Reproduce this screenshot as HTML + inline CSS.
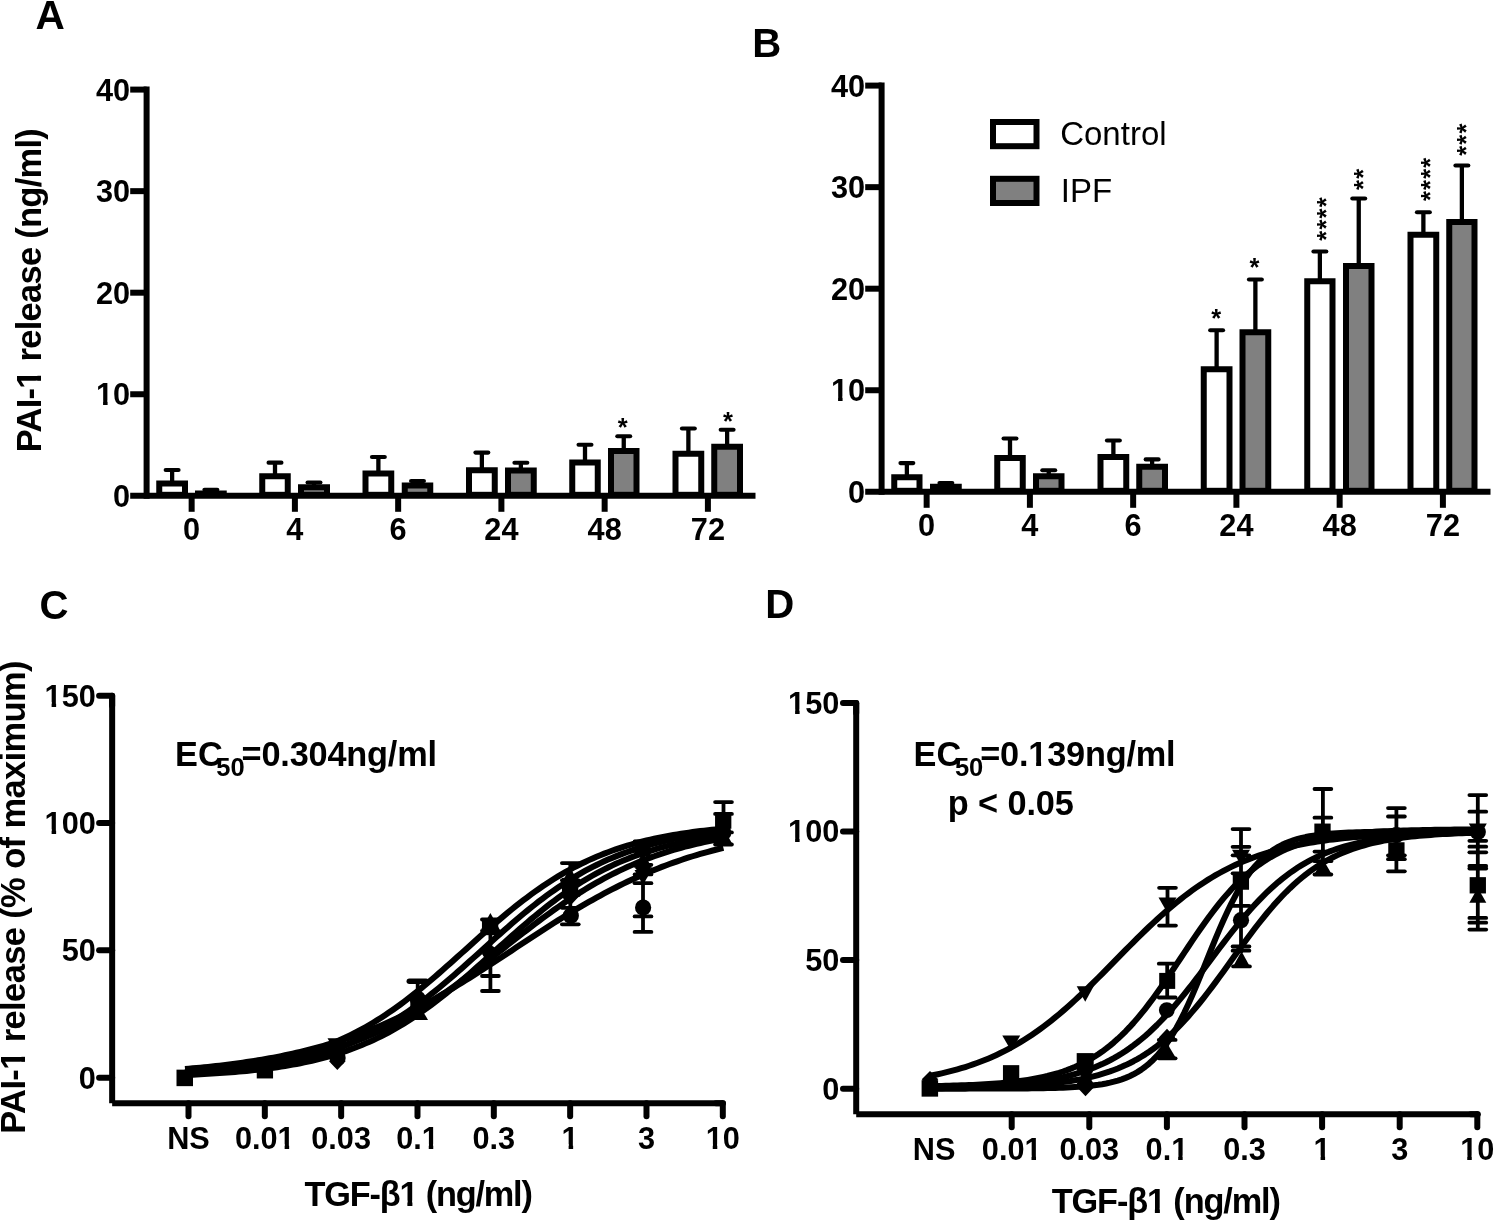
<!DOCTYPE html>
<html><head><meta charset="utf-8"><title>Figure</title>
<style>html,body{margin:0;padding:0;background:#fff}svg{display:block;will-change:transform}text{font-family:"Liberation Sans",sans-serif;fill:#000}</style>
</head><body>
<svg width="1494" height="1221" viewBox="0 0 1494 1221">
<rect x="0" y="0" width="1494" height="1221" fill="#fff"/>
<line x1="172.12" y1="481.50" x2="172.12" y2="470.00" stroke="#000" stroke-width="4.3" stroke-linecap="butt"/>
<line x1="165.72" y1="470.00" x2="178.53" y2="470.00" stroke="#000" stroke-width="4.2" stroke-linecap="round"/>
<rect x="159.25" y="483.50" width="25.75" height="11.30" fill="#fff" stroke="#000" stroke-width="6"/>
<line x1="210.88" y1="491.50" x2="210.88" y2="489.80" stroke="#000" stroke-width="4.3" stroke-linecap="butt"/>
<line x1="204.47" y1="489.80" x2="217.28" y2="489.80" stroke="#000" stroke-width="4.2" stroke-linecap="round"/>
<rect x="198.00" y="493.50" width="25.75" height="1.30" fill="#808080" stroke="#000" stroke-width="6"/>
<line x1="275.00" y1="474.25" x2="275.00" y2="462.70" stroke="#000" stroke-width="4.3" stroke-linecap="butt"/>
<line x1="268.60" y1="462.70" x2="281.40" y2="462.70" stroke="#000" stroke-width="4.2" stroke-linecap="round"/>
<rect x="262.25" y="476.25" width="25.50" height="18.55" fill="#fff" stroke="#000" stroke-width="6"/>
<line x1="314.00" y1="485.25" x2="314.00" y2="482.50" stroke="#000" stroke-width="4.3" stroke-linecap="butt"/>
<line x1="307.60" y1="482.50" x2="320.40" y2="482.50" stroke="#000" stroke-width="4.2" stroke-linecap="round"/>
<rect x="301.00" y="487.25" width="26.00" height="7.55" fill="#808080" stroke="#000" stroke-width="6"/>
<line x1="378.38" y1="471.50" x2="378.38" y2="457.00" stroke="#000" stroke-width="4.3" stroke-linecap="butt"/>
<line x1="371.98" y1="457.00" x2="384.77" y2="457.00" stroke="#000" stroke-width="4.2" stroke-linecap="round"/>
<rect x="365.50" y="473.50" width="25.75" height="21.30" fill="#fff" stroke="#000" stroke-width="6"/>
<line x1="417.50" y1="483.50" x2="417.50" y2="481.00" stroke="#000" stroke-width="4.3" stroke-linecap="butt"/>
<line x1="411.10" y1="481.00" x2="423.90" y2="481.00" stroke="#000" stroke-width="4.2" stroke-linecap="round"/>
<rect x="404.75" y="485.50" width="25.50" height="9.30" fill="#808080" stroke="#000" stroke-width="6"/>
<line x1="481.88" y1="468.25" x2="481.88" y2="452.60" stroke="#000" stroke-width="4.3" stroke-linecap="butt"/>
<line x1="475.48" y1="452.60" x2="488.27" y2="452.60" stroke="#000" stroke-width="4.2" stroke-linecap="round"/>
<rect x="469.00" y="470.25" width="25.75" height="24.55" fill="#fff" stroke="#000" stroke-width="6"/>
<line x1="520.88" y1="468.50" x2="520.88" y2="462.75" stroke="#000" stroke-width="4.3" stroke-linecap="butt"/>
<line x1="514.48" y1="462.75" x2="527.27" y2="462.75" stroke="#000" stroke-width="4.2" stroke-linecap="round"/>
<rect x="508.00" y="470.50" width="25.75" height="24.30" fill="#808080" stroke="#000" stroke-width="6"/>
<line x1="585.00" y1="460.50" x2="585.00" y2="444.75" stroke="#000" stroke-width="4.3" stroke-linecap="butt"/>
<line x1="578.60" y1="444.75" x2="591.40" y2="444.75" stroke="#000" stroke-width="4.2" stroke-linecap="round"/>
<rect x="572.25" y="462.50" width="25.50" height="32.30" fill="#fff" stroke="#000" stroke-width="6"/>
<line x1="623.75" y1="449.00" x2="623.75" y2="436.25" stroke="#000" stroke-width="4.3" stroke-linecap="butt"/>
<line x1="617.35" y1="436.25" x2="630.15" y2="436.25" stroke="#000" stroke-width="4.2" stroke-linecap="round"/>
<rect x="611.00" y="451.00" width="25.50" height="43.80" fill="#808080" stroke="#000" stroke-width="6"/>
<line x1="688.38" y1="451.75" x2="688.38" y2="428.50" stroke="#000" stroke-width="4.3" stroke-linecap="butt"/>
<line x1="681.98" y1="428.50" x2="694.77" y2="428.50" stroke="#000" stroke-width="4.2" stroke-linecap="round"/>
<rect x="675.50" y="453.75" width="25.75" height="41.05" fill="#fff" stroke="#000" stroke-width="6"/>
<line x1="727.12" y1="444.75" x2="727.12" y2="429.75" stroke="#000" stroke-width="4.3" stroke-linecap="butt"/>
<line x1="720.73" y1="429.75" x2="733.52" y2="429.75" stroke="#000" stroke-width="4.2" stroke-linecap="round"/>
<rect x="714.25" y="446.75" width="25.75" height="48.05" fill="#808080" stroke="#000" stroke-width="6"/>
<line x1="146.60" y1="86.60" x2="146.60" y2="498.80" stroke="#000" stroke-width="6.0" stroke-linecap="butt"/>
<line x1="130.20" y1="495.80" x2="755.50" y2="495.80" stroke="#000" stroke-width="6.0" stroke-linecap="butt"/>
<line x1="130.20" y1="394.25" x2="146.60" y2="394.25" stroke="#000" stroke-width="6.0" stroke-linecap="butt"/>
<line x1="130.20" y1="292.70" x2="146.60" y2="292.70" stroke="#000" stroke-width="6.0" stroke-linecap="butt"/>
<line x1="130.20" y1="191.15" x2="146.60" y2="191.15" stroke="#000" stroke-width="6.0" stroke-linecap="butt"/>
<line x1="130.20" y1="89.60" x2="146.60" y2="89.60" stroke="#000" stroke-width="6.0" stroke-linecap="butt"/>
<text x="130.20" y="506.79" font-size="30.7" font-weight="bold" text-anchor="end" >0</text>
<text x="130.20" y="405.24" font-size="30.7" font-weight="bold" text-anchor="end" >10</text>
<text x="130.20" y="303.69" font-size="30.7" font-weight="bold" text-anchor="end" >20</text>
<text x="130.20" y="202.14" font-size="30.7" font-weight="bold" text-anchor="end" >30</text>
<text x="130.20" y="100.59" font-size="30.7" font-weight="bold" text-anchor="end" >40</text>
<line x1="191.65" y1="495.80" x2="191.65" y2="511.80" stroke="#000" stroke-width="6.0" stroke-linecap="butt"/>
<text x="191.65" y="540.40" font-size="30.7" font-weight="bold" text-anchor="middle" >0</text>
<line x1="294.90" y1="495.80" x2="294.90" y2="511.80" stroke="#000" stroke-width="6.0" stroke-linecap="butt"/>
<text x="294.90" y="540.40" font-size="30.7" font-weight="bold" text-anchor="middle" >4</text>
<line x1="398.15" y1="495.80" x2="398.15" y2="511.80" stroke="#000" stroke-width="6.0" stroke-linecap="butt"/>
<text x="398.15" y="540.40" font-size="30.7" font-weight="bold" text-anchor="middle" >6</text>
<line x1="501.40" y1="495.80" x2="501.40" y2="511.80" stroke="#000" stroke-width="6.0" stroke-linecap="butt"/>
<text x="501.40" y="540.40" font-size="30.7" font-weight="bold" text-anchor="middle" >24</text>
<line x1="604.65" y1="495.80" x2="604.65" y2="511.80" stroke="#000" stroke-width="6.0" stroke-linecap="butt"/>
<text x="604.65" y="540.40" font-size="30.7" font-weight="bold" text-anchor="middle" >48</text>
<line x1="707.90" y1="495.80" x2="707.90" y2="511.80" stroke="#000" stroke-width="6.0" stroke-linecap="butt"/>
<text x="707.90" y="540.40" font-size="30.7" font-weight="bold" text-anchor="middle" >72</text>
<text x="622.70" y="436.00" font-size="25.5" font-weight="bold" text-anchor="middle" >*</text>
<text x="727.90" y="429.60" font-size="25.5" font-weight="bold" text-anchor="middle" >*</text>
<line x1="906.88" y1="475.25" x2="906.88" y2="463.10" stroke="#000" stroke-width="4.3" stroke-linecap="butt"/>
<line x1="900.48" y1="463.10" x2="913.27" y2="463.10" stroke="#000" stroke-width="4.2" stroke-linecap="round"/>
<rect x="894.25" y="477.25" width="25.25" height="13.55" fill="#fff" stroke="#000" stroke-width="6"/>
<line x1="945.88" y1="484.75" x2="945.88" y2="483.00" stroke="#000" stroke-width="4.3" stroke-linecap="butt"/>
<line x1="939.48" y1="483.00" x2="952.27" y2="483.00" stroke="#000" stroke-width="4.2" stroke-linecap="round"/>
<rect x="933.00" y="486.75" width="25.75" height="4.05" fill="#808080" stroke="#000" stroke-width="6"/>
<line x1="1010.00" y1="456.00" x2="1010.00" y2="438.50" stroke="#000" stroke-width="4.3" stroke-linecap="butt"/>
<line x1="1003.60" y1="438.50" x2="1016.40" y2="438.50" stroke="#000" stroke-width="4.2" stroke-linecap="round"/>
<rect x="997.25" y="458.00" width="25.50" height="32.80" fill="#fff" stroke="#000" stroke-width="6"/>
<line x1="1048.75" y1="474.25" x2="1048.75" y2="470.25" stroke="#000" stroke-width="4.3" stroke-linecap="butt"/>
<line x1="1042.35" y1="470.25" x2="1055.15" y2="470.25" stroke="#000" stroke-width="4.2" stroke-linecap="round"/>
<rect x="1036.00" y="476.25" width="25.50" height="14.55" fill="#808080" stroke="#000" stroke-width="6"/>
<line x1="1113.38" y1="455.00" x2="1113.38" y2="440.50" stroke="#000" stroke-width="4.3" stroke-linecap="butt"/>
<line x1="1106.97" y1="440.50" x2="1119.78" y2="440.50" stroke="#000" stroke-width="4.2" stroke-linecap="round"/>
<rect x="1100.50" y="457.00" width="25.75" height="33.80" fill="#fff" stroke="#000" stroke-width="6"/>
<line x1="1152.12" y1="464.75" x2="1152.12" y2="459.40" stroke="#000" stroke-width="4.3" stroke-linecap="butt"/>
<line x1="1145.72" y1="459.40" x2="1158.53" y2="459.40" stroke="#000" stroke-width="4.2" stroke-linecap="round"/>
<rect x="1139.25" y="466.75" width="25.75" height="24.05" fill="#808080" stroke="#000" stroke-width="6"/>
<line x1="1216.62" y1="367.25" x2="1216.62" y2="330.25" stroke="#000" stroke-width="4.3" stroke-linecap="butt"/>
<line x1="1210.22" y1="330.25" x2="1223.03" y2="330.25" stroke="#000" stroke-width="4.2" stroke-linecap="round"/>
<rect x="1203.75" y="369.25" width="25.75" height="121.55" fill="#fff" stroke="#000" stroke-width="6"/>
<line x1="1255.38" y1="330.25" x2="1255.38" y2="279.50" stroke="#000" stroke-width="4.3" stroke-linecap="butt"/>
<line x1="1248.97" y1="279.50" x2="1261.78" y2="279.50" stroke="#000" stroke-width="4.2" stroke-linecap="round"/>
<rect x="1242.50" y="332.25" width="25.75" height="158.55" fill="#808080" stroke="#000" stroke-width="6"/>
<line x1="1319.88" y1="279.25" x2="1319.88" y2="251.50" stroke="#000" stroke-width="4.3" stroke-linecap="butt"/>
<line x1="1313.47" y1="251.50" x2="1326.28" y2="251.50" stroke="#000" stroke-width="4.2" stroke-linecap="round"/>
<rect x="1307.25" y="281.25" width="25.25" height="209.55" fill="#fff" stroke="#000" stroke-width="6"/>
<line x1="1358.75" y1="264.00" x2="1358.75" y2="198.50" stroke="#000" stroke-width="4.3" stroke-linecap="butt"/>
<line x1="1352.35" y1="198.50" x2="1365.15" y2="198.50" stroke="#000" stroke-width="4.2" stroke-linecap="round"/>
<rect x="1346.00" y="266.00" width="25.50" height="224.80" fill="#808080" stroke="#000" stroke-width="6"/>
<line x1="1423.38" y1="232.75" x2="1423.38" y2="212.25" stroke="#000" stroke-width="4.3" stroke-linecap="butt"/>
<line x1="1416.97" y1="212.25" x2="1429.78" y2="212.25" stroke="#000" stroke-width="4.2" stroke-linecap="round"/>
<rect x="1410.50" y="234.75" width="25.75" height="256.05" fill="#fff" stroke="#000" stroke-width="6"/>
<line x1="1461.88" y1="220.00" x2="1461.88" y2="165.50" stroke="#000" stroke-width="4.3" stroke-linecap="butt"/>
<line x1="1455.47" y1="165.50" x2="1468.28" y2="165.50" stroke="#000" stroke-width="4.2" stroke-linecap="round"/>
<rect x="1449.25" y="222.00" width="25.25" height="268.80" fill="#808080" stroke="#000" stroke-width="6"/>
<line x1="881.60" y1="82.60" x2="881.60" y2="494.80" stroke="#000" stroke-width="6.0" stroke-linecap="butt"/>
<line x1="865.20" y1="491.80" x2="1490.50" y2="491.80" stroke="#000" stroke-width="6.0" stroke-linecap="butt"/>
<line x1="865.20" y1="390.25" x2="881.60" y2="390.25" stroke="#000" stroke-width="6.0" stroke-linecap="butt"/>
<line x1="865.20" y1="288.70" x2="881.60" y2="288.70" stroke="#000" stroke-width="6.0" stroke-linecap="butt"/>
<line x1="865.20" y1="187.15" x2="881.60" y2="187.15" stroke="#000" stroke-width="6.0" stroke-linecap="butt"/>
<line x1="865.20" y1="85.60" x2="881.60" y2="85.60" stroke="#000" stroke-width="6.0" stroke-linecap="butt"/>
<text x="865.20" y="502.79" font-size="30.7" font-weight="bold" text-anchor="end" >0</text>
<text x="865.20" y="401.24" font-size="30.7" font-weight="bold" text-anchor="end" >10</text>
<text x="865.20" y="299.69" font-size="30.7" font-weight="bold" text-anchor="end" >20</text>
<text x="865.20" y="198.14" font-size="30.7" font-weight="bold" text-anchor="end" >30</text>
<text x="865.20" y="96.59" font-size="30.7" font-weight="bold" text-anchor="end" >40</text>
<line x1="926.65" y1="491.80" x2="926.65" y2="507.80" stroke="#000" stroke-width="6.0" stroke-linecap="butt"/>
<text x="926.65" y="536.40" font-size="30.7" font-weight="bold" text-anchor="middle" >0</text>
<line x1="1029.90" y1="491.80" x2="1029.90" y2="507.80" stroke="#000" stroke-width="6.0" stroke-linecap="butt"/>
<text x="1029.90" y="536.40" font-size="30.7" font-weight="bold" text-anchor="middle" >4</text>
<line x1="1133.15" y1="491.80" x2="1133.15" y2="507.80" stroke="#000" stroke-width="6.0" stroke-linecap="butt"/>
<text x="1133.15" y="536.40" font-size="30.7" font-weight="bold" text-anchor="middle" >6</text>
<line x1="1236.40" y1="491.80" x2="1236.40" y2="507.80" stroke="#000" stroke-width="6.0" stroke-linecap="butt"/>
<text x="1236.40" y="536.40" font-size="30.7" font-weight="bold" text-anchor="middle" >24</text>
<line x1="1339.65" y1="491.80" x2="1339.65" y2="507.80" stroke="#000" stroke-width="6.0" stroke-linecap="butt"/>
<text x="1339.65" y="536.40" font-size="30.7" font-weight="bold" text-anchor="middle" >48</text>
<line x1="1442.90" y1="491.80" x2="1442.90" y2="507.80" stroke="#000" stroke-width="6.0" stroke-linecap="butt"/>
<text x="1442.90" y="536.40" font-size="30.7" font-weight="bold" text-anchor="middle" >72</text>
<text x="1216.25" y="326.60" font-size="25.5" font-weight="bold" text-anchor="middle" >*</text>
<text x="1254.50" y="275.90" font-size="25.5" font-weight="bold" text-anchor="middle" >*</text>
<text transform="translate(1334.62,240.70) rotate(-90)" font-size="25.5" font-weight="bold" text-anchor="start" letter-spacing="1.2">****</text>
<text transform="translate(1371.53,189.90) rotate(-90)" font-size="25.5" font-weight="bold" text-anchor="start" letter-spacing="1.2">**</text>
<text transform="translate(1439.23,201.00) rotate(-90)" font-size="25.5" font-weight="bold" text-anchor="start" letter-spacing="1.2">****</text>
<text transform="translate(1475.03,155.80) rotate(-90)" font-size="25.5" font-weight="bold" text-anchor="start" letter-spacing="1.2">***</text>
<rect x="993.00" y="122.00" width="43.50" height="24.20" fill="#fff" stroke="#000" stroke-width="6"/>
<rect x="993.00" y="178.80" width="43.50" height="24.20" fill="#808080" stroke="#000" stroke-width="6"/>
<text x="1060.20" y="145.20" font-size="33" font-weight="normal" text-anchor="start" >Control</text>
<text x="1060.80" y="201.80" font-size="33" font-weight="normal" text-anchor="start" >IPF</text>
<text x="35.40" y="29.10" font-size="40.6" font-weight="bold" text-anchor="start" >A</text>
<text x="752.20" y="57.30" font-size="40.2" font-weight="bold" text-anchor="start" >B</text>
<text x="39.50" y="619.00" font-size="40.2" font-weight="bold" text-anchor="start" >C</text>
<text x="765.30" y="618.30" font-size="40.2" font-weight="bold" text-anchor="start" >D</text>
<text transform="translate(40.90,452.20) rotate(-90)" font-size="34.5" font-weight="bold" text-anchor="start" textLength="324" lengthAdjust="spacing">PAI-1 release (ng/ml)</text>
<text transform="translate(25.30,1133.70) rotate(-90)" font-size="34.5" font-weight="bold" text-anchor="start" textLength="473.3" lengthAdjust="spacing">PAI-1 release (% of maximum)</text>
<line x1="112.15" y1="695.65" x2="112.15" y2="705.65" stroke="#000" stroke-width="6.0" stroke-linecap="round"/>
<line x1="112.15" y1="695.65" x2="112.15" y2="1103.15" stroke="#000" stroke-width="6.0" stroke-linecap="butt"/>
<line x1="112.15" y1="1103.15" x2="723.00" y2="1103.15" stroke="#000" stroke-width="6.0" stroke-linecap="butt"/>
<line x1="716.00" y1="1103.15" x2="723.00" y2="1103.15" stroke="#000" stroke-width="6.0" stroke-linecap="round"/>
<line x1="99.10" y1="1077.65" x2="112.15" y2="1077.65" stroke="#000" stroke-width="6.0" stroke-linecap="round"/>
<text x="95.80" y="1088.64" font-size="30.7" font-weight="bold" text-anchor="end" >0</text>
<line x1="99.10" y1="950.32" x2="112.15" y2="950.32" stroke="#000" stroke-width="6.0" stroke-linecap="round"/>
<text x="95.80" y="961.31" font-size="30.7" font-weight="bold" text-anchor="end" >50</text>
<line x1="99.10" y1="822.98" x2="112.15" y2="822.98" stroke="#000" stroke-width="6.0" stroke-linecap="round"/>
<text x="95.80" y="833.97" font-size="30.7" font-weight="bold" text-anchor="end" >100</text>
<line x1="99.10" y1="695.65" x2="112.15" y2="695.65" stroke="#000" stroke-width="6.0" stroke-linecap="round"/>
<text x="95.80" y="706.64" font-size="30.7" font-weight="bold" text-anchor="end" >150</text>
<line x1="188.50" y1="1103.15" x2="188.50" y2="1116.30" stroke="#000" stroke-width="6.0" stroke-linecap="round"/>
<text x="188.50" y="1148.90" font-size="30.7" font-weight="bold" text-anchor="middle" >NS</text>
<line x1="264.83" y1="1103.15" x2="264.83" y2="1116.30" stroke="#000" stroke-width="6.0" stroke-linecap="round"/>
<text x="264.83" y="1148.90" font-size="30.7" font-weight="bold" text-anchor="middle" >0.01</text>
<line x1="341.16" y1="1103.15" x2="341.16" y2="1116.30" stroke="#000" stroke-width="6.0" stroke-linecap="round"/>
<text x="341.16" y="1148.90" font-size="30.7" font-weight="bold" text-anchor="middle" >0.03</text>
<line x1="417.49" y1="1103.15" x2="417.49" y2="1116.30" stroke="#000" stroke-width="6.0" stroke-linecap="round"/>
<text x="417.49" y="1148.90" font-size="30.7" font-weight="bold" text-anchor="middle" >0.1</text>
<line x1="493.82" y1="1103.15" x2="493.82" y2="1116.30" stroke="#000" stroke-width="6.0" stroke-linecap="round"/>
<text x="493.82" y="1148.90" font-size="30.7" font-weight="bold" text-anchor="middle" >0.3</text>
<line x1="570.15" y1="1103.15" x2="570.15" y2="1116.30" stroke="#000" stroke-width="6.0" stroke-linecap="round"/>
<text x="570.15" y="1148.90" font-size="30.7" font-weight="bold" text-anchor="middle" >1</text>
<line x1="646.48" y1="1103.15" x2="646.48" y2="1116.30" stroke="#000" stroke-width="6.0" stroke-linecap="round"/>
<text x="646.48" y="1148.90" font-size="30.7" font-weight="bold" text-anchor="middle" >3</text>
<line x1="722.81" y1="1103.15" x2="722.81" y2="1116.30" stroke="#000" stroke-width="6.0" stroke-linecap="round"/>
<text x="722.81" y="1148.90" font-size="30.7" font-weight="bold" text-anchor="middle" >10</text>
<polyline points="185.00,1072.24 188.85,1071.98 192.69,1071.70 196.54,1071.42 200.38,1071.11 204.23,1070.79 208.07,1070.46 211.92,1070.10 215.77,1069.73 219.61,1069.34 223.46,1068.93 227.30,1068.49 231.15,1068.03 235.00,1067.55 238.84,1067.05 242.69,1066.51 246.53,1065.96 250.38,1065.37 254.22,1064.75 258.07,1064.10 261.92,1063.42 265.76,1062.71 269.61,1061.96 273.45,1061.17 277.30,1060.34 281.14,1059.48 284.99,1058.57 288.84,1057.62 292.68,1056.63 296.53,1055.58 300.37,1054.50 304.22,1053.36 308.07,1052.16 311.91,1050.92 315.76,1049.62 319.60,1048.26 323.45,1046.85 327.29,1045.37 331.14,1043.84 334.99,1042.24 338.83,1040.57 342.68,1038.84 346.52,1037.05 350.37,1035.18 354.21,1033.25 358.06,1031.24 361.91,1029.17 365.75,1027.02 369.60,1024.80 373.44,1022.51 377.29,1020.14 381.14,1017.70 384.98,1015.20 388.83,1012.61 392.67,1009.96 396.52,1007.24 400.36,1004.46 404.21,1001.60 408.06,998.68 411.90,995.70 415.75,992.67 419.59,989.57 423.44,986.42 427.28,983.22 431.13,979.98 434.98,976.69 438.82,973.37 442.67,970.01 446.51,966.62 450.36,963.21 454.21,959.77 458.05,956.32 461.90,952.87 465.74,949.40 469.59,945.94 473.43,942.48 477.28,939.04 481.13,935.60 484.97,932.19 488.82,928.81 492.66,925.45 496.51,922.13 500.35,918.85 504.20,915.61 508.05,912.41 511.89,909.27 515.74,906.18 519.58,903.15 523.43,900.18 527.28,897.27 531.12,894.42 534.97,891.64 538.81,888.93 542.66,886.28 546.50,883.71 550.35,881.21 554.20,878.78 558.04,876.42 561.89,874.14 565.73,871.93 569.58,869.79 573.42,867.72 577.27,865.72 581.12,863.79 584.96,861.94 588.81,860.15 592.65,858.42 596.50,856.77 600.35,855.18 604.19,853.65 608.04,852.18 611.88,850.77 615.73,849.42 619.57,848.13 623.42,846.89 627.27,845.70 631.11,844.57 634.96,843.48 638.80,842.45 642.65,841.46 646.49,840.51 650.34,839.61 654.19,838.75 658.03,837.93 661.88,837.14 665.72,836.40 669.57,835.69 673.42,835.01 677.26,834.36 681.11,833.75 684.95,833.17 688.80,832.61 692.64,832.08 696.49,831.58 700.34,831.10 704.18,830.65 708.03,830.21 711.87,829.80 715.72,829.41 719.56,829.04 723.41,828.69" fill="none" stroke="#000" stroke-width="6" stroke-linejoin="round"/>
<polyline points="185.00,1073.41 188.85,1073.21 192.69,1072.99 196.54,1072.77 200.38,1072.54 204.23,1072.29 208.07,1072.03 211.92,1071.75 215.77,1071.46 219.61,1071.15 223.46,1070.83 227.30,1070.49 231.15,1070.13 235.00,1069.75 238.84,1069.35 242.69,1068.93 246.53,1068.49 250.38,1068.03 254.22,1067.54 258.07,1067.03 261.92,1066.49 265.76,1065.92 269.61,1065.32 273.45,1064.69 277.30,1064.03 281.14,1063.34 284.99,1062.61 288.84,1061.85 292.68,1061.04 296.53,1060.20 300.37,1059.32 304.22,1058.39 308.07,1057.42 311.91,1056.41 315.76,1055.34 319.60,1054.23 323.45,1053.07 327.29,1051.85 331.14,1050.58 334.99,1049.25 338.83,1047.86 342.68,1046.42 346.52,1044.91 350.37,1043.34 354.21,1041.70 358.06,1040.00 361.91,1038.23 365.75,1036.39 369.60,1034.49 373.44,1032.51 377.29,1030.46 381.14,1028.34 384.98,1026.14 388.83,1023.87 392.67,1021.53 396.52,1019.12 400.36,1016.63 404.21,1014.07 408.06,1011.44 411.90,1008.74 415.75,1005.96 419.59,1003.12 423.44,1000.22 427.28,997.25 431.13,994.22 434.98,991.13 438.82,987.99 442.67,984.80 446.51,981.56 450.36,978.27 454.21,974.95 458.05,971.58 461.90,968.19 465.74,964.77 469.59,961.33 473.43,957.88 477.28,954.41 481.13,950.94 484.97,947.46 488.82,943.99 492.66,940.53 496.51,937.09 500.35,933.66 504.20,930.26 508.05,926.89 511.89,923.55 515.74,920.25 519.58,917.00 523.43,913.79 527.28,910.63 531.12,907.52 534.97,904.48 538.81,901.49 542.66,898.56 546.50,895.70 550.35,892.91 554.20,890.19 558.04,887.53 561.89,884.95 565.73,882.44 569.58,880.00 573.42,877.64 577.27,875.35 581.12,873.13 584.96,870.98 588.81,868.91 592.65,866.91 596.50,864.98 600.35,863.12 604.19,861.33 608.04,859.61 611.88,857.96 615.73,856.37 619.57,854.84 623.42,853.37 627.27,851.97 631.11,850.62 634.96,849.33 638.80,848.10 642.65,846.92 646.49,845.79 650.34,844.71 654.19,843.68 658.03,842.70 661.88,841.76 665.72,840.86 669.57,840.01 673.42,839.19 677.26,838.42 681.11,837.68 684.95,836.97 688.80,836.30 692.64,835.66 696.49,835.06 700.34,834.48 704.18,833.93 708.03,833.41 711.87,832.91 715.72,832.44 719.56,831.99 723.41,831.57" fill="none" stroke="#000" stroke-width="6" stroke-linejoin="round"/>
<polyline points="185.00,1074.98 188.85,1074.82 192.69,1074.64 196.54,1074.46 200.38,1074.26 204.23,1074.06 208.07,1073.84 211.92,1073.61 215.77,1073.37 219.61,1073.12 223.46,1072.85 227.30,1072.57 231.15,1072.27 235.00,1071.96 238.84,1071.63 242.69,1071.28 246.53,1070.91 250.38,1070.52 254.22,1070.11 258.07,1069.69 261.92,1069.23 265.76,1068.76 269.61,1068.26 273.45,1067.73 277.30,1067.17 281.14,1066.59 284.99,1065.97 288.84,1065.33 292.68,1064.65 296.53,1063.94 300.37,1063.19 304.22,1062.40 308.07,1061.58 311.91,1060.71 315.76,1059.80 319.60,1058.85 323.45,1057.85 327.29,1056.81 331.14,1055.71 334.99,1054.57 338.83,1053.37 342.68,1052.12 346.52,1050.81 350.37,1049.44 354.21,1048.02 358.06,1046.53 361.91,1044.98 365.75,1043.36 369.60,1041.68 373.44,1039.93 377.29,1038.11 381.14,1036.22 384.98,1034.27 388.83,1032.24 392.67,1030.13 396.52,1027.96 400.36,1025.71 404.21,1023.38 408.06,1020.98 411.90,1018.51 415.75,1015.97 419.59,1013.35 423.44,1010.66 427.28,1007.91 431.13,1005.08 434.98,1002.19 438.82,999.23 442.67,996.22 446.51,993.14 450.36,990.01 454.21,986.82 458.05,983.59 461.90,980.31 465.74,977.00 469.59,973.64 473.43,970.26 477.28,966.84 481.13,963.41 484.97,959.96 488.82,956.50 492.66,953.03 496.51,949.56 500.35,946.10 504.20,942.64 508.05,939.20 511.89,935.79 515.74,932.39 519.58,929.03 523.43,925.70 527.28,922.41 531.12,919.16 534.97,915.96 538.81,912.81 542.66,909.72 546.50,906.68 550.35,903.70 554.20,900.79 558.04,897.94 561.89,895.16 565.73,892.45 569.58,889.82 573.42,887.25 577.27,884.75 581.12,882.33 584.96,879.99 588.81,877.71 592.65,875.51 596.50,873.38 600.35,871.33 604.19,869.35 608.04,867.44 611.88,865.60 615.73,863.83 619.57,862.13 623.42,860.49 627.27,858.92 631.11,857.41 634.96,855.96 638.80,854.58 642.65,853.25 646.49,851.98 650.34,850.77 654.19,849.60 658.03,848.49 661.88,847.43 665.72,846.42 669.57,845.45 673.42,844.53 677.26,843.65 681.11,842.81 684.95,842.02 688.80,841.26 692.64,840.53 696.49,839.84 700.34,839.19 704.18,838.56 708.03,837.97 711.87,837.41 715.72,836.87 719.56,836.36 723.41,835.88" fill="none" stroke="#000" stroke-width="6" stroke-linejoin="round"/>
<polyline points="185.00,1072.00 188.85,1071.77 192.69,1071.52 196.54,1071.26 200.38,1071.00 204.23,1070.71 208.07,1070.42 211.92,1070.11 215.77,1069.79 219.61,1069.45 223.46,1069.10 227.30,1068.73 231.15,1068.35 235.00,1067.94 238.84,1067.52 242.69,1067.08 246.53,1066.62 250.38,1066.14 254.22,1065.64 258.07,1065.11 261.92,1064.57 265.76,1063.99 269.61,1063.40 273.45,1062.77 277.30,1062.12 281.14,1061.45 284.99,1060.74 288.84,1060.00 292.68,1059.23 296.53,1058.43 300.37,1057.60 304.22,1056.73 308.07,1055.82 311.91,1054.88 315.76,1053.90 319.60,1052.88 323.45,1051.82 327.29,1050.72 331.14,1049.58 334.99,1048.39 338.83,1047.16 342.68,1045.88 346.52,1044.56 350.37,1043.19 354.21,1041.77 358.06,1040.30 361.91,1038.77 365.75,1037.20 369.60,1035.57 373.44,1033.89 377.29,1032.16 381.14,1030.37 384.98,1028.53 388.83,1026.63 392.67,1024.68 396.52,1022.67 400.36,1020.60 404.21,1018.48 408.06,1016.30 411.90,1014.07 415.75,1011.78 419.59,1009.44 423.44,1007.05 427.28,1004.61 431.13,1002.11 434.98,999.57 438.82,996.97 442.67,994.33 446.51,991.65 450.36,988.92 454.21,986.16 458.05,983.35 461.90,980.52 465.74,977.64 469.59,974.74 473.43,971.81 477.28,968.86 481.13,965.88 484.97,962.89 488.82,959.88 492.66,956.87 496.51,953.84 500.35,950.81 504.20,947.78 508.05,944.75 511.89,941.73 515.74,938.72 519.58,935.72 523.43,932.73 527.28,929.77 531.12,926.83 534.97,923.91 538.81,921.02 542.66,918.17 546.50,915.35 550.35,912.56 554.20,909.81 558.04,907.11 561.89,904.45 565.73,901.83 569.58,899.26 573.42,896.74 577.27,894.27 581.12,891.85 584.96,889.49 588.81,887.18 592.65,884.92 596.50,882.71 600.35,880.57 604.19,878.47 608.04,876.44 611.88,874.45 615.73,872.53 619.57,870.66 623.42,868.84 627.27,867.08 631.11,865.38 634.96,863.72 638.80,862.12 642.65,860.58 646.49,859.08 650.34,857.63 654.19,856.24 658.03,854.89 661.88,853.59 665.72,852.34 669.57,851.13 673.42,849.96 677.26,848.84 681.11,847.76 684.95,846.72 688.80,845.73 692.64,844.77 696.49,843.84 700.34,842.96 704.18,842.11 708.03,841.29 711.87,840.50 715.72,839.75 719.56,839.03 723.41,838.34" fill="none" stroke="#000" stroke-width="6" stroke-linejoin="round"/>
<polyline points="185.00,1069.02 188.85,1068.70 192.69,1068.36 196.54,1068.01 200.38,1067.65 204.23,1067.27 208.07,1066.88 211.92,1066.48 215.77,1066.06 219.61,1065.62 223.46,1065.17 227.30,1064.70 231.15,1064.22 235.00,1063.71 238.84,1063.19 242.69,1062.65 246.53,1062.09 250.38,1061.51 254.22,1060.91 258.07,1060.29 261.92,1059.65 265.76,1058.99 269.61,1058.30 273.45,1057.58 277.30,1056.85 281.14,1056.09 284.99,1055.30 288.84,1054.49 292.68,1053.65 296.53,1052.78 300.37,1051.88 304.22,1050.95 308.07,1050.00 311.91,1049.01 315.76,1048.00 319.60,1046.95 323.45,1045.87 327.29,1044.75 331.14,1043.61 334.99,1042.42 338.83,1041.21 342.68,1039.96 346.52,1038.67 350.37,1037.35 354.21,1035.98 358.06,1034.59 361.91,1033.15 365.75,1031.68 369.60,1030.17 373.44,1028.62 377.29,1027.03 381.14,1025.40 384.98,1023.74 388.83,1022.03 392.67,1020.29 396.52,1018.51 400.36,1016.69 404.21,1014.83 408.06,1012.93 411.90,1010.99 415.75,1009.02 419.59,1007.01 423.44,1004.96 427.28,1002.88 431.13,1000.76 434.98,998.61 438.82,996.43 442.67,994.21 446.51,991.97 450.36,989.69 454.21,987.38 458.05,985.05 461.90,982.69 465.74,980.31 469.59,977.90 473.43,975.47 477.28,973.02 481.13,970.56 484.97,968.07 488.82,965.58 492.66,963.07 496.51,960.55 500.35,958.02 504.20,955.49 508.05,952.95 511.89,950.40 515.74,947.86 519.58,945.32 523.43,942.78 527.28,940.25 531.12,937.72 534.97,935.21 538.81,932.70 542.66,930.21 546.50,927.73 550.35,925.27 554.20,922.83 558.04,920.41 561.89,918.01 565.73,915.63 569.58,913.28 573.42,910.95 577.27,908.66 581.12,906.39 584.96,904.15 588.81,901.94 592.65,899.77 596.50,897.63 600.35,895.52 604.19,893.45 608.04,891.42 611.88,889.42 615.73,887.46 619.57,885.53 623.42,883.65 627.27,881.80 631.11,879.99 634.96,878.22 638.80,876.49 642.65,874.79 646.49,873.14 650.34,871.53 654.19,869.95 658.03,868.41 661.88,866.91 665.72,865.45 669.57,864.03 673.42,862.64 677.26,861.30 681.11,859.98 684.95,858.71 688.80,857.47 692.64,856.26 696.49,855.09 700.34,853.95 704.18,852.85 708.03,851.78 711.87,850.74 715.72,849.73 719.56,848.76 723.41,847.81" fill="none" stroke="#000" stroke-width="6" stroke-linejoin="round"/>
<line x1="409.30" y1="981.20" x2="426.10" y2="981.20" stroke="#000" stroke-width="5.5" stroke-linecap="round"/>
<line x1="417.70" y1="981.20" x2="417.70" y2="1000.00" stroke="#000" stroke-width="3.8" stroke-linecap="butt"/>
<line x1="490.40" y1="919.50" x2="490.40" y2="991.00" stroke="#000" stroke-width="3.8" stroke-linecap="butt"/>
<line x1="482.00" y1="919.50" x2="498.80" y2="919.50" stroke="#000" stroke-width="3.8" stroke-linecap="round"/>
<line x1="482.00" y1="930.80" x2="498.80" y2="930.80" stroke="#000" stroke-width="3.8" stroke-linecap="round"/>
<line x1="482.00" y1="976.00" x2="498.80" y2="976.00" stroke="#000" stroke-width="3.8" stroke-linecap="round"/>
<line x1="482.00" y1="991.00" x2="498.80" y2="991.00" stroke="#000" stroke-width="3.8" stroke-linecap="round"/>
<line x1="570.30" y1="863.10" x2="570.30" y2="924.30" stroke="#000" stroke-width="3.8" stroke-linecap="butt"/>
<line x1="561.90" y1="863.10" x2="578.70" y2="863.10" stroke="#000" stroke-width="3.8" stroke-linecap="round"/>
<line x1="561.90" y1="880.30" x2="578.70" y2="880.30" stroke="#000" stroke-width="3.8" stroke-linecap="round"/>
<line x1="561.90" y1="895.00" x2="578.70" y2="895.00" stroke="#000" stroke-width="3.8" stroke-linecap="round"/>
<line x1="561.90" y1="907.80" x2="578.70" y2="907.80" stroke="#000" stroke-width="3.8" stroke-linecap="round"/>
<line x1="561.90" y1="924.30" x2="578.70" y2="924.30" stroke="#000" stroke-width="3.8" stroke-linecap="round"/>
<line x1="643.00" y1="841.50" x2="643.00" y2="931.90" stroke="#000" stroke-width="3.8" stroke-linecap="butt"/>
<line x1="634.60" y1="841.50" x2="651.40" y2="841.50" stroke="#000" stroke-width="3.8" stroke-linecap="round"/>
<line x1="634.60" y1="864.80" x2="651.40" y2="864.80" stroke="#000" stroke-width="3.8" stroke-linecap="round"/>
<line x1="634.60" y1="874.40" x2="651.40" y2="874.40" stroke="#000" stroke-width="3.8" stroke-linecap="round"/>
<line x1="634.60" y1="883.20" x2="651.40" y2="883.20" stroke="#000" stroke-width="3.8" stroke-linecap="round"/>
<line x1="634.60" y1="916.40" x2="651.40" y2="916.40" stroke="#000" stroke-width="3.8" stroke-linecap="round"/>
<line x1="634.60" y1="931.90" x2="651.40" y2="931.90" stroke="#000" stroke-width="3.8" stroke-linecap="round"/>
<line x1="723.50" y1="802.10" x2="723.50" y2="844.50" stroke="#000" stroke-width="3.8" stroke-linecap="butt"/>
<line x1="715.10" y1="802.10" x2="731.90" y2="802.10" stroke="#000" stroke-width="3.8" stroke-linecap="round"/>
<line x1="715.10" y1="813.90" x2="731.90" y2="813.90" stroke="#000" stroke-width="3.8" stroke-linecap="round"/>
<line x1="715.10" y1="832.40" x2="731.90" y2="832.40" stroke="#000" stroke-width="3.8" stroke-linecap="round"/>
<line x1="715.10" y1="844.50" x2="731.90" y2="844.50" stroke="#000" stroke-width="3.8" stroke-linecap="round"/>
<rect x="176.50" y="1069.65" width="16.50" height="16.50" fill="#000"/>
<rect x="256.75" y="1062.15" width="16.30" height="16.30" fill="#000"/>
<polygon points="327.50,1038.30 347.50,1038.30 337.50,1055.30" fill="#000"/>
<circle cx="337.60" cy="1058.00" r="8.1" fill="#000"/>
<polygon points="329.05,1061.20 337.30,1052.45 345.55,1061.20 337.30,1069.95" fill="#000"/>
<rect x="329.80" y="1044.50" width="15.00" height="15.00" fill="#000"/>
<circle cx="417.80" cy="998.80" r="8.1" fill="#000"/>
<polygon points="407.55,1019.90 428.05,1019.90 417.80,1002.90" fill="#000"/>
<rect x="410.30" y="995.50" width="15.00" height="15.00" fill="#000"/>
<polygon points="481.40,929.00 499.40,929.00 490.40,913.00" fill="#000"/>
<rect x="481.95" y="918.85" width="16.30" height="16.30" fill="#000"/>
<polygon points="481.90,954.00 490.40,944.00 498.90,954.00 490.40,964.00" fill="#000"/>
<circle cx="490.40" cy="953.50" r="7.5" fill="#000"/>
<polygon points="561.20,883.25 579.20,883.25 570.20,867.75" fill="#000"/>
<rect x="561.95" y="877.85" width="16.30" height="16.30" fill="#000"/>
<polygon points="561.95,897.00 570.20,888.25 578.45,897.00 570.20,905.75" fill="#000"/>
<circle cx="570.80" cy="915.70" r="8.1" fill="#000"/>
<rect x="634.25" y="839.85" width="16.30" height="16.30" fill="#000"/>
<polygon points="634.00,867.75 652.00,867.75 643.00,852.25" fill="#000"/>
<polygon points="635.00,868.00 643.00,858.50 651.00,868.00 643.00,877.50" fill="#000"/>
<polygon points="634.50,870.00 651.50,870.00 643.00,885.00" fill="#000"/>
<circle cx="643.10" cy="907.60" r="8.1" fill="#000"/>
<rect x="715.05" y="812.45" width="16.30" height="16.30" fill="#000"/>
<circle cx="723.30" cy="832.50" r="8.1" fill="#000"/>
<polygon points="714.30,843.75 732.30,843.75 723.30,828.25" fill="#000"/>
<line x1="856.20" y1="702.90" x2="856.20" y2="712.90" stroke="#000" stroke-width="6.0" stroke-linecap="round"/>
<line x1="856.20" y1="702.90" x2="856.20" y2="1114.30" stroke="#000" stroke-width="6.0" stroke-linecap="butt"/>
<line x1="856.20" y1="1114.30" x2="1477.80" y2="1114.30" stroke="#000" stroke-width="6.0" stroke-linecap="butt"/>
<line x1="1470.80" y1="1114.30" x2="1477.80" y2="1114.30" stroke="#000" stroke-width="6.0" stroke-linecap="round"/>
<line x1="843.00" y1="1088.65" x2="856.20" y2="1088.65" stroke="#000" stroke-width="6.0" stroke-linecap="round"/>
<text x="839.30" y="1099.64" font-size="30.7" font-weight="bold" text-anchor="end" >0</text>
<line x1="843.00" y1="960.07" x2="856.20" y2="960.07" stroke="#000" stroke-width="6.0" stroke-linecap="round"/>
<text x="839.30" y="971.06" font-size="30.7" font-weight="bold" text-anchor="end" >50</text>
<line x1="843.00" y1="831.48" x2="856.20" y2="831.48" stroke="#000" stroke-width="6.0" stroke-linecap="round"/>
<text x="839.30" y="842.47" font-size="30.7" font-weight="bold" text-anchor="end" >100</text>
<line x1="843.00" y1="702.90" x2="856.20" y2="702.90" stroke="#000" stroke-width="6.0" stroke-linecap="round"/>
<text x="839.30" y="713.89" font-size="30.7" font-weight="bold" text-anchor="end" >150</text>
<text x="934.10" y="1160.30" font-size="30.7" font-weight="bold" text-anchor="middle" >NS</text>
<line x1="1011.70" y1="1114.30" x2="1011.70" y2="1127.20" stroke="#000" stroke-width="6.0" stroke-linecap="round"/>
<text x="1011.70" y="1160.30" font-size="30.7" font-weight="bold" text-anchor="middle" >0.01</text>
<line x1="1089.30" y1="1114.30" x2="1089.30" y2="1127.20" stroke="#000" stroke-width="6.0" stroke-linecap="round"/>
<text x="1089.30" y="1160.30" font-size="30.7" font-weight="bold" text-anchor="middle" >0.03</text>
<line x1="1166.90" y1="1114.30" x2="1166.90" y2="1127.20" stroke="#000" stroke-width="6.0" stroke-linecap="round"/>
<text x="1166.90" y="1160.30" font-size="30.7" font-weight="bold" text-anchor="middle" >0.1</text>
<line x1="1244.50" y1="1114.30" x2="1244.50" y2="1127.20" stroke="#000" stroke-width="6.0" stroke-linecap="round"/>
<text x="1244.50" y="1160.30" font-size="30.7" font-weight="bold" text-anchor="middle" >0.3</text>
<line x1="1322.10" y1="1114.30" x2="1322.10" y2="1127.20" stroke="#000" stroke-width="6.0" stroke-linecap="round"/>
<text x="1322.10" y="1160.30" font-size="30.7" font-weight="bold" text-anchor="middle" >1</text>
<line x1="1399.70" y1="1114.30" x2="1399.70" y2="1127.20" stroke="#000" stroke-width="6.0" stroke-linecap="round"/>
<text x="1399.70" y="1160.30" font-size="30.7" font-weight="bold" text-anchor="middle" >3</text>
<line x1="1477.30" y1="1114.30" x2="1477.30" y2="1127.20" stroke="#000" stroke-width="6.0" stroke-linecap="round"/>
<text x="1477.30" y="1160.30" font-size="30.7" font-weight="bold" text-anchor="middle" >10</text>
<polyline points="930.00,1075.81 933.91,1075.03 937.83,1074.21 941.74,1073.34 945.65,1072.42 949.56,1071.45 953.48,1070.43 957.39,1069.35 961.30,1068.21 965.22,1067.01 969.13,1065.75 973.04,1064.42 976.95,1063.02 980.87,1061.56 984.78,1060.01 988.69,1058.40 992.61,1056.70 996.52,1054.92 1000.43,1053.06 1004.34,1051.11 1008.26,1049.08 1012.17,1046.96 1016.08,1044.74 1020.00,1042.43 1023.91,1040.03 1027.82,1037.54 1031.73,1034.95 1035.65,1032.26 1039.56,1029.48 1043.47,1026.61 1047.39,1023.64 1051.30,1020.58 1055.21,1017.43 1059.12,1014.19 1063.04,1010.86 1066.95,1007.45 1070.86,1003.96 1074.78,1000.40 1078.69,996.77 1082.60,993.07 1086.51,989.31 1090.43,985.50 1094.34,981.65 1098.25,977.75 1102.17,973.82 1106.08,969.86 1109.99,965.89 1113.90,961.90 1117.82,957.91 1121.73,953.92 1125.64,949.95 1129.56,945.99 1133.47,942.06 1137.38,938.17 1141.29,934.31 1145.21,930.51 1149.12,926.76 1153.03,923.06 1156.95,919.44 1160.86,915.88 1164.77,912.40 1168.68,909.00 1172.60,905.68 1176.51,902.44 1180.42,899.30 1184.34,896.25 1188.25,893.28 1192.16,890.42 1196.07,887.64 1199.99,884.97 1203.90,882.39 1207.81,879.90 1211.73,877.51 1215.64,875.21 1219.55,873.00 1223.46,870.88 1227.38,868.86 1231.29,866.92 1235.20,865.06 1239.12,863.29 1243.03,861.60 1246.94,859.99 1250.85,858.45 1254.77,856.99 1258.68,855.60 1262.59,854.28 1266.51,853.02 1270.42,851.83 1274.33,850.69 1278.24,849.62 1282.16,848.60 1286.07,847.63 1289.98,846.72 1293.90,845.85 1297.81,845.04 1301.72,844.26 1305.63,843.53 1309.55,842.83 1313.46,842.18 1317.37,841.56 1321.29,840.98 1325.20,840.43 1329.11,839.90 1333.02,839.41 1336.94,838.95 1340.85,838.51 1344.76,838.10 1348.68,837.71 1352.59,837.35 1356.50,837.00 1360.41,836.67 1364.33,836.37 1368.24,836.08 1372.15,835.81 1376.07,835.55 1379.98,835.31 1383.89,835.08 1387.80,834.87 1391.72,834.67 1395.63,834.48 1399.54,834.30 1403.46,834.13 1407.37,833.97 1411.28,833.83 1415.19,833.69 1419.11,833.55 1423.02,833.43 1426.93,833.31 1430.85,833.21 1434.76,833.10 1438.67,833.01 1442.58,832.91 1446.50,832.83 1450.41,832.75 1454.32,832.67 1458.24,832.60 1462.15,832.53 1466.06,832.47 1469.97,832.41 1473.89,832.36 1477.80,832.30" fill="none" stroke="#000" stroke-width="6" stroke-linejoin="round"/>
<polyline points="930.00,1086.13 933.91,1086.06 937.83,1085.98 941.74,1085.90 945.65,1085.81 949.56,1085.71 953.48,1085.60 957.39,1085.48 961.30,1085.35 965.22,1085.21 969.13,1085.05 973.04,1084.88 976.95,1084.69 980.87,1084.49 984.78,1084.26 988.69,1084.02 992.61,1083.75 996.52,1083.45 1000.43,1083.13 1004.34,1082.78 1008.26,1082.40 1012.17,1081.98 1016.08,1081.52 1020.00,1081.02 1023.91,1080.48 1027.82,1079.88 1031.73,1079.23 1035.65,1078.52 1039.56,1077.75 1043.47,1076.91 1047.39,1076.00 1051.30,1075.00 1055.21,1073.92 1059.12,1072.75 1063.04,1071.48 1066.95,1070.10 1070.86,1068.61 1074.78,1066.99 1078.69,1065.24 1082.60,1063.36 1086.51,1061.33 1090.43,1059.14 1094.34,1056.79 1098.25,1054.27 1102.17,1051.57 1106.08,1048.68 1109.99,1045.61 1113.90,1042.33 1117.82,1038.85 1121.73,1035.17 1125.64,1031.28 1129.56,1027.18 1133.47,1022.87 1137.38,1018.36 1141.29,1013.66 1145.21,1008.76 1149.12,1003.68 1153.03,998.44 1156.95,993.04 1160.86,987.51 1164.77,981.86 1168.68,976.11 1172.60,970.29 1176.51,964.41 1180.42,958.51 1184.34,952.61 1188.25,946.73 1192.16,940.90 1196.07,935.14 1199.99,929.47 1203.90,923.92 1207.81,918.49 1211.73,913.22 1215.64,908.12 1219.55,903.19 1223.46,898.45 1227.38,893.90 1231.29,889.56 1235.20,885.43 1239.12,881.50 1243.03,877.78 1246.94,874.27 1250.85,870.96 1254.77,867.85 1258.68,864.93 1262.59,862.20 1266.51,859.65 1270.42,857.27 1274.33,855.06 1278.24,853.00 1282.16,851.09 1286.07,849.32 1289.98,847.68 1293.90,846.17 1297.81,844.77 1301.72,843.48 1305.63,842.29 1309.55,841.19 1313.46,840.18 1317.37,839.26 1321.29,838.41 1325.20,837.62 1329.11,836.90 1333.02,836.25 1336.94,835.64 1340.85,835.09 1344.76,834.58 1348.68,834.12 1352.59,833.69 1356.50,833.30 1360.41,832.94 1364.33,832.62 1368.24,832.32 1372.15,832.05 1376.07,831.80 1379.98,831.57 1383.89,831.36 1387.80,831.17 1391.72,831.00 1395.63,830.84 1399.54,830.69 1403.46,830.56 1407.37,830.44 1411.28,830.33 1415.19,830.23 1419.11,830.13 1423.02,830.05 1426.93,829.97 1430.85,829.90 1434.76,829.84 1438.67,829.78 1442.58,829.73 1446.50,829.68 1450.41,829.63 1454.32,829.59 1458.24,829.56 1462.15,829.52 1466.06,829.49 1469.97,829.46 1473.89,829.44 1477.80,829.41" fill="none" stroke="#000" stroke-width="6" stroke-linejoin="round"/>
<polyline points="930.00,1087.89 933.91,1087.83 937.83,1087.76 941.74,1087.68 945.65,1087.60 949.56,1087.51 953.48,1087.42 957.39,1087.31 961.30,1087.20 965.22,1087.08 969.13,1086.95 973.04,1086.80 976.95,1086.65 980.87,1086.48 984.78,1086.30 988.69,1086.10 992.61,1085.89 996.52,1085.66 1000.43,1085.41 1004.34,1085.14 1008.26,1084.84 1012.17,1084.53 1016.08,1084.18 1020.00,1083.81 1023.91,1083.41 1027.82,1082.98 1031.73,1082.51 1035.65,1082.00 1039.56,1081.46 1043.47,1080.87 1047.39,1080.23 1051.30,1079.54 1055.21,1078.80 1059.12,1078.00 1063.04,1077.14 1066.95,1076.21 1070.86,1075.22 1074.78,1074.14 1078.69,1072.99 1082.60,1071.75 1086.51,1070.42 1090.43,1069.00 1094.34,1067.48 1098.25,1065.84 1102.17,1064.10 1106.08,1062.23 1109.99,1060.24 1113.90,1058.13 1117.82,1055.87 1121.73,1053.48 1125.64,1050.94 1129.56,1048.25 1133.47,1045.41 1137.38,1042.41 1141.29,1039.24 1145.21,1035.92 1149.12,1032.44 1153.03,1028.79 1156.95,1024.98 1160.86,1021.00 1164.77,1016.88 1168.68,1012.60 1172.60,1008.18 1176.51,1003.62 1180.42,998.94 1184.34,994.14 1188.25,989.23 1192.16,984.24 1196.07,979.16 1199.99,974.03 1203.90,968.85 1207.81,963.64 1211.73,958.42 1215.64,953.20 1219.55,948.01 1223.46,942.86 1227.38,937.76 1231.29,932.73 1235.20,927.79 1239.12,922.95 1243.03,918.22 1246.94,913.62 1250.85,909.14 1254.77,904.81 1258.68,900.63 1262.59,896.60 1266.51,892.73 1270.42,889.02 1274.33,885.48 1278.24,882.09 1282.16,878.87 1286.07,875.81 1289.98,872.91 1293.90,870.17 1297.81,867.57 1301.72,865.13 1305.63,862.82 1309.55,860.65 1313.46,858.62 1317.37,856.71 1321.29,854.92 1325.20,853.25 1329.11,851.68 1333.02,850.22 1336.94,848.86 1340.85,847.59 1344.76,846.40 1348.68,845.30 1352.59,844.28 1356.50,843.33 1360.41,842.44 1364.33,841.62 1368.24,840.86 1372.15,840.15 1376.07,839.50 1379.98,838.89 1383.89,838.33 1387.80,837.81 1391.72,837.32 1395.63,836.88 1399.54,836.47 1403.46,836.08 1407.37,835.73 1411.28,835.40 1415.19,835.10 1419.11,834.82 1423.02,834.57 1426.93,834.33 1430.85,834.11 1434.76,833.91 1438.67,833.72 1442.58,833.55 1446.50,833.39 1450.41,833.24 1454.32,833.10 1458.24,832.98 1462.15,832.86 1466.06,832.75 1469.97,832.66 1473.89,832.56 1477.80,832.48" fill="none" stroke="#000" stroke-width="6" stroke-linejoin="round"/>
<polyline points="930.00,1088.64 933.91,1088.64 937.83,1088.64 941.74,1088.64 945.65,1088.64 949.56,1088.64 953.48,1088.64 957.39,1088.63 961.30,1088.63 965.22,1088.63 969.13,1088.62 973.04,1088.62 976.95,1088.61 980.87,1088.61 984.78,1088.60 988.69,1088.59 992.61,1088.58 996.52,1088.57 1000.43,1088.56 1004.34,1088.55 1008.26,1088.53 1012.17,1088.51 1016.08,1088.49 1020.00,1088.46 1023.91,1088.43 1027.82,1088.39 1031.73,1088.35 1035.65,1088.30 1039.56,1088.24 1043.47,1088.18 1047.39,1088.10 1051.30,1088.01 1055.21,1087.91 1059.12,1087.79 1063.04,1087.65 1066.95,1087.49 1070.86,1087.30 1074.78,1087.08 1078.69,1086.82 1082.60,1086.53 1086.51,1086.19 1090.43,1085.79 1094.34,1085.33 1098.25,1084.80 1102.17,1084.18 1106.08,1083.47 1109.99,1082.65 1113.90,1081.69 1117.82,1080.60 1121.73,1079.33 1125.64,1077.88 1129.56,1076.21 1133.47,1074.30 1137.38,1072.11 1141.29,1069.62 1145.21,1066.79 1149.12,1063.57 1153.03,1059.95 1156.95,1055.87 1160.86,1051.31 1164.77,1046.23 1168.68,1040.61 1172.60,1034.44 1176.51,1027.71 1180.42,1020.42 1184.34,1012.60 1188.25,1004.28 1192.16,995.51 1196.07,986.38 1199.99,976.96 1203.90,967.35 1207.81,957.67 1211.73,948.00 1215.64,938.48 1219.55,929.19 1223.46,920.23 1227.38,911.68 1231.29,903.60 1235.20,896.04 1239.12,889.02 1243.03,882.56 1246.94,876.67 1250.85,871.32 1254.77,866.50 1258.68,862.19 1262.59,858.34 1266.51,854.92 1270.42,851.90 1274.33,849.24 1278.24,846.90 1282.16,844.85 1286.07,843.07 1289.98,841.51 1293.90,840.15 1297.81,838.97 1301.72,837.95 1305.63,837.06 1309.55,836.30 1313.46,835.63 1317.37,835.06 1321.29,834.57 1325.20,834.14 1329.11,833.77 1333.02,833.45 1336.94,833.18 1340.85,832.94 1344.76,832.74 1348.68,832.56 1352.59,832.41 1356.50,832.28 1360.41,832.17 1364.33,832.08 1368.24,831.99 1372.15,831.92 1376.07,831.86 1379.98,831.81 1383.89,831.76 1387.80,831.72 1391.72,831.69 1395.63,831.66 1399.54,831.64 1403.46,831.61 1407.37,831.60 1411.28,831.58 1415.19,831.57 1419.11,831.56 1423.02,831.55 1426.93,831.54 1430.85,831.53 1434.76,831.52 1438.67,831.52 1442.58,831.51 1446.50,831.51 1450.41,831.50 1454.32,831.50 1458.24,831.50 1462.15,831.50 1466.06,831.50 1469.97,831.49 1473.89,831.49 1477.80,831.49" fill="none" stroke="#000" stroke-width="6" stroke-linejoin="round"/>
<polyline points="930.00,1088.28 933.91,1088.24 937.83,1088.21 941.74,1088.17 945.65,1088.12 949.56,1088.08 953.48,1088.03 957.39,1087.97 961.30,1087.91 965.22,1087.85 969.13,1087.78 973.04,1087.70 976.95,1087.62 980.87,1087.53 984.78,1087.43 988.69,1087.32 992.61,1087.20 996.52,1087.08 1000.43,1086.94 1004.34,1086.79 1008.26,1086.62 1012.17,1086.45 1016.08,1086.25 1020.00,1086.04 1023.91,1085.82 1027.82,1085.57 1031.73,1085.30 1035.65,1085.01 1039.56,1084.69 1043.47,1084.35 1047.39,1083.97 1051.30,1083.57 1055.21,1083.13 1059.12,1082.65 1063.04,1082.13 1066.95,1081.57 1070.86,1080.97 1074.78,1080.31 1078.69,1079.60 1082.60,1078.83 1086.51,1078.00 1090.43,1077.10 1094.34,1076.13 1098.25,1075.08 1102.17,1073.95 1106.08,1072.73 1109.99,1071.42 1113.90,1070.00 1117.82,1068.48 1121.73,1066.85 1125.64,1065.10 1129.56,1063.23 1133.47,1061.22 1137.38,1059.07 1141.29,1056.78 1145.21,1054.34 1149.12,1051.74 1153.03,1048.98 1156.95,1046.06 1160.86,1042.96 1164.77,1039.69 1168.68,1036.25 1172.60,1032.63 1176.51,1028.83 1180.42,1024.85 1184.34,1020.70 1188.25,1016.38 1192.16,1011.90 1196.07,1007.26 1199.99,1002.48 1203.90,997.56 1207.81,992.52 1211.73,987.37 1215.64,982.12 1219.55,976.80 1223.46,971.42 1227.38,966.00 1231.29,960.56 1235.20,955.12 1239.12,949.69 1243.03,944.30 1246.94,938.97 1250.85,933.71 1254.77,928.54 1258.68,923.48 1262.59,918.54 1266.51,913.73 1270.42,909.06 1274.33,904.55 1278.24,900.21 1282.16,896.03 1286.07,892.02 1289.98,888.19 1293.90,884.53 1297.81,881.05 1301.72,877.75 1305.63,874.62 1309.55,871.67 1313.46,868.88 1317.37,866.25 1321.29,863.78 1325.20,861.47 1329.11,859.29 1333.02,857.26 1336.94,855.36 1340.85,853.59 1344.76,851.94 1348.68,850.40 1352.59,848.97 1356.50,847.64 1360.41,846.40 1364.33,845.25 1368.24,844.19 1372.15,843.21 1376.07,842.29 1379.98,841.45 1383.89,840.67 1387.80,839.95 1391.72,839.28 1395.63,838.67 1399.54,838.10 1403.46,837.57 1407.37,837.09 1411.28,836.64 1415.19,836.23 1419.11,835.85 1423.02,835.50 1426.93,835.18 1430.85,834.89 1434.76,834.61 1438.67,834.36 1442.58,834.13 1446.50,833.92 1450.41,833.72 1454.32,833.54 1458.24,833.37 1462.15,833.22 1466.06,833.08 1469.97,832.95 1473.89,832.83 1477.80,832.72" fill="none" stroke="#000" stroke-width="6" stroke-linejoin="round"/>
<line x1="1167.50" y1="887.80" x2="1167.50" y2="925.60" stroke="#000" stroke-width="3.8" stroke-linecap="butt"/>
<line x1="1159.10" y1="887.80" x2="1175.90" y2="887.80" stroke="#000" stroke-width="3.8" stroke-linecap="round"/>
<line x1="1159.10" y1="925.60" x2="1175.90" y2="925.60" stroke="#000" stroke-width="3.8" stroke-linecap="round"/>
<line x1="1167.20" y1="963.70" x2="1167.20" y2="997.50" stroke="#000" stroke-width="3.8" stroke-linecap="butt"/>
<line x1="1158.80" y1="963.70" x2="1175.60" y2="963.70" stroke="#000" stroke-width="3.8" stroke-linecap="round"/>
<line x1="1158.80" y1="997.50" x2="1175.60" y2="997.50" stroke="#000" stroke-width="3.8" stroke-linecap="round"/>
<line x1="1167.20" y1="1039.90" x2="1167.20" y2="1058.30" stroke="#000" stroke-width="3.8" stroke-linecap="butt"/>
<line x1="1158.80" y1="1039.90" x2="1175.60" y2="1039.90" stroke="#000" stroke-width="3.8" stroke-linecap="round"/>
<line x1="1158.80" y1="1058.30" x2="1175.60" y2="1058.30" stroke="#000" stroke-width="3.8" stroke-linecap="round"/>
<line x1="1241.00" y1="829.10" x2="1241.00" y2="953.00" stroke="#000" stroke-width="3.8" stroke-linecap="butt"/>
<line x1="1232.60" y1="829.10" x2="1249.40" y2="829.10" stroke="#000" stroke-width="3.8" stroke-linecap="round"/>
<line x1="1232.60" y1="846.80" x2="1249.40" y2="846.80" stroke="#000" stroke-width="3.8" stroke-linecap="round"/>
<line x1="1232.60" y1="855.30" x2="1249.40" y2="855.30" stroke="#000" stroke-width="3.8" stroke-linecap="round"/>
<line x1="1232.60" y1="873.30" x2="1249.40" y2="873.30" stroke="#000" stroke-width="3.8" stroke-linecap="round"/>
<line x1="1232.60" y1="905.80" x2="1249.40" y2="905.80" stroke="#000" stroke-width="3.8" stroke-linecap="round"/>
<line x1="1232.60" y1="946.50" x2="1249.40" y2="946.50" stroke="#000" stroke-width="3.8" stroke-linecap="round"/>
<line x1="1232.60" y1="950.70" x2="1249.40" y2="950.70" stroke="#000" stroke-width="3.8" stroke-linecap="round"/>
<line x1="1233.10" y1="966.40" x2="1249.90" y2="966.40" stroke="#000" stroke-width="3.8" stroke-linecap="round"/>
<line x1="1322.90" y1="789.00" x2="1322.90" y2="874.50" stroke="#000" stroke-width="3.8" stroke-linecap="butt"/>
<line x1="1314.50" y1="789.00" x2="1331.30" y2="789.00" stroke="#000" stroke-width="3.8" stroke-linecap="round"/>
<line x1="1314.50" y1="817.70" x2="1331.30" y2="817.70" stroke="#000" stroke-width="3.8" stroke-linecap="round"/>
<line x1="1314.50" y1="851.60" x2="1331.30" y2="851.60" stroke="#000" stroke-width="3.8" stroke-linecap="round"/>
<line x1="1314.50" y1="861.20" x2="1331.30" y2="861.20" stroke="#000" stroke-width="3.8" stroke-linecap="round"/>
<line x1="1314.50" y1="874.50" x2="1331.30" y2="874.50" stroke="#000" stroke-width="3.8" stroke-linecap="round"/>
<line x1="1396.40" y1="808.10" x2="1396.40" y2="871.30" stroke="#000" stroke-width="3.8" stroke-linecap="butt"/>
<line x1="1388.00" y1="808.10" x2="1404.80" y2="808.10" stroke="#000" stroke-width="3.8" stroke-linecap="round"/>
<line x1="1388.00" y1="816.50" x2="1404.80" y2="816.50" stroke="#000" stroke-width="3.8" stroke-linecap="round"/>
<line x1="1388.00" y1="855.30" x2="1404.80" y2="855.30" stroke="#000" stroke-width="3.8" stroke-linecap="round"/>
<line x1="1388.00" y1="859.20" x2="1404.80" y2="859.20" stroke="#000" stroke-width="3.8" stroke-linecap="round"/>
<line x1="1388.00" y1="871.30" x2="1404.80" y2="871.30" stroke="#000" stroke-width="3.8" stroke-linecap="round"/>
<line x1="1477.80" y1="795.10" x2="1477.80" y2="929.60" stroke="#000" stroke-width="3.8" stroke-linecap="butt"/>
<line x1="1469.40" y1="795.10" x2="1486.20" y2="795.10" stroke="#000" stroke-width="3.8" stroke-linecap="round"/>
<line x1="1469.40" y1="811.70" x2="1486.20" y2="811.70" stroke="#000" stroke-width="3.8" stroke-linecap="round"/>
<line x1="1469.40" y1="840.80" x2="1486.20" y2="840.80" stroke="#000" stroke-width="3.8" stroke-linecap="round"/>
<line x1="1469.40" y1="846.70" x2="1486.20" y2="846.70" stroke="#000" stroke-width="3.8" stroke-linecap="round"/>
<line x1="1469.40" y1="852.30" x2="1486.20" y2="852.30" stroke="#000" stroke-width="3.8" stroke-linecap="round"/>
<line x1="1469.40" y1="865.90" x2="1486.20" y2="865.90" stroke="#000" stroke-width="3.8" stroke-linecap="round"/>
<line x1="1469.40" y1="868.50" x2="1486.20" y2="868.50" stroke="#000" stroke-width="3.8" stroke-linecap="round"/>
<line x1="1469.40" y1="917.90" x2="1486.20" y2="917.90" stroke="#000" stroke-width="3.8" stroke-linecap="round"/>
<line x1="1469.40" y1="922.70" x2="1486.20" y2="922.70" stroke="#000" stroke-width="3.8" stroke-linecap="round"/>
<line x1="1469.40" y1="929.60" x2="1486.20" y2="929.60" stroke="#000" stroke-width="3.8" stroke-linecap="round"/>
<polygon points="921.75,1079.20 930.00,1070.95 938.25,1079.20 930.00,1087.45" fill="#000"/>
<rect x="921.60" y="1080.15" width="16.50" height="16.50" fill="#000"/>
<polygon points="1002.25,1035.45 1020.25,1035.45 1011.25,1050.95" fill="#000"/>
<rect x="1002.95" y="1065.15" width="16.30" height="16.30" fill="#000"/>
<polygon points="1076.70,986.35 1093.70,986.35 1085.20,1001.85" fill="#000"/>
<rect x="1076.70" y="1053.10" width="17.00" height="17.00" fill="#000"/>
<circle cx="1085.20" cy="1069.00" r="8.1" fill="#000"/>
<polygon points="1076.20,1084.75 1094.20,1084.75 1085.20,1069.25" fill="#000"/>
<polygon points="1077.25,1087.60 1085.50,1078.85 1093.75,1087.60 1085.50,1096.35" fill="#000"/>
<polygon points="1158.50,897.55 1176.50,897.55 1167.50,913.05" fill="#000"/>
<rect x="1159.20" y="972.90" width="16.00" height="16.00" fill="#000"/>
<circle cx="1166.80" cy="1010.10" r="7.9" fill="#000"/>
<polygon points="1158.75,1037.50 1167.00,1028.75 1175.25,1037.50 1167.00,1046.25" fill="#000"/>
<polygon points="1158.20,1058.50 1176.20,1058.50 1167.20,1043.50" fill="#000"/>
<polygon points="1232.00,849.75 1250.00,849.75 1241.00,865.25" fill="#000"/>
<rect x="1232.75" y="873.45" width="16.30" height="16.30" fill="#000"/>
<circle cx="1241.00" cy="920.20" r="8.1" fill="#000"/>
<polygon points="1233.00,966.65 1250.00,966.65 1241.50,951.15" fill="#000"/>
<rect x="1314.35" y="823.55" width="16.30" height="16.30" fill="#000"/>
<circle cx="1322.90" cy="834.00" r="8.1" fill="#000"/>
<polygon points="1314.00,874.75 1332.00,874.75 1323.00,859.25" fill="#000"/>
<rect x="1388.25" y="842.25" width="16.30" height="16.30" fill="#000"/>
<circle cx="1396.40" cy="835.00" r="8.1" fill="#000"/>
<polygon points="1468.80,823.55 1486.80,823.55 1477.80,839.05" fill="#000"/>
<circle cx="1477.80" cy="831.90" r="8.1" fill="#000"/>
<rect x="1469.65" y="877.15" width="16.30" height="16.30" fill="#000"/>
<polygon points="1469.30,902.70 1486.30,902.70 1477.80,887.70" fill="#000"/>
<text x="175.00" y="766.20" font-size="34.3" font-weight="bold" text-anchor="start" >EC</text>
<text x="216.30" y="775.90" font-size="25.5" font-weight="bold" text-anchor="start" >50</text>
<text x="241.60" y="766.20" font-size="34.3" font-weight="bold" text-anchor="start" textLength="195.4" lengthAdjust="spacing">=0.304ng/ml</text>
<text x="913.60" y="766.20" font-size="34.3" font-weight="bold" text-anchor="start" >EC</text>
<text x="954.90" y="775.90" font-size="25.5" font-weight="bold" text-anchor="start" >50</text>
<text x="980.20" y="766.20" font-size="34.3" font-weight="bold" text-anchor="start" textLength="195.4" lengthAdjust="spacing">=0.139ng/ml</text>
<text x="947.70" y="814.60" font-size="34.3" font-weight="bold" text-anchor="start" textLength="126.2" lengthAdjust="spacing">p &lt; 0.05</text>
<text x="304.60" y="1205.60" font-size="34.3" font-weight="bold" text-anchor="start" textLength="228.2" lengthAdjust="spacing">TGF-β1 (ng/ml)</text>
<text x="1051.70" y="1213.00" font-size="34.3" font-weight="bold" text-anchor="start" textLength="229.2" lengthAdjust="spacing">TGF-β1 (ng/ml)</text>
<g id="foot-mask">
<g><rect x="96.89" y="400.51" width="6.18" height="5.83" fill="#fff"/><rect x="107.59" y="400.51" width="5.79" height="5.83" fill="#fff"/></g>
<g><rect x="831.89" y="396.51" width="6.18" height="5.83" fill="#fff"/><rect x="842.59" y="396.51" width="5.79" height="5.83" fill="#fff"/></g>
<g transform="translate(40.90,452.20) rotate(-90)"><rect x="64.57" y="-5.12" width="6.83" height="6.22" fill="#fff"/><rect x="76.44" y="-5.12" width="6.39" height="6.22" fill="#fff"/></g>
<g transform="translate(25.30,1133.70) rotate(-90)"><rect x="65.01" y="-5.12" width="6.83" height="6.22" fill="#fff"/><rect x="76.88" y="-5.12" width="6.39" height="6.22" fill="#fff"/></g>
<g><rect x="45.43" y="829.24" width="6.18" height="5.83" fill="#fff"/><rect x="56.12" y="829.24" width="5.79" height="5.83" fill="#fff"/></g>
<g><rect x="45.43" y="701.91" width="6.18" height="5.83" fill="#fff"/><rect x="56.12" y="701.91" width="5.79" height="5.83" fill="#fff"/></g>
<g><rect x="278.45" y="1144.17" width="6.18" height="5.83" fill="#fff"/><rect x="289.15" y="1144.17" width="5.79" height="5.83" fill="#fff"/></g>
<g><rect x="422.57" y="1144.17" width="6.18" height="5.83" fill="#fff"/><rect x="433.26" y="1144.17" width="5.79" height="5.83" fill="#fff"/></g>
<g><rect x="562.44" y="1144.17" width="6.18" height="5.83" fill="#fff"/><rect x="573.14" y="1144.17" width="5.79" height="5.83" fill="#fff"/></g>
<g><rect x="706.57" y="1144.17" width="6.18" height="5.83" fill="#fff"/><rect x="717.27" y="1144.17" width="5.79" height="5.83" fill="#fff"/></g>
<g><rect x="788.93" y="837.74" width="6.18" height="5.83" fill="#fff"/><rect x="799.62" y="837.74" width="5.79" height="5.83" fill="#fff"/></g>
<g><rect x="788.93" y="709.16" width="6.18" height="5.83" fill="#fff"/><rect x="799.62" y="709.16" width="5.79" height="5.83" fill="#fff"/></g>
<g><rect x="1025.32" y="1155.57" width="6.18" height="5.83" fill="#fff"/><rect x="1036.02" y="1155.57" width="5.79" height="5.83" fill="#fff"/></g>
<g><rect x="1171.98" y="1155.57" width="6.18" height="5.83" fill="#fff"/><rect x="1182.67" y="1155.57" width="5.79" height="5.83" fill="#fff"/></g>
<g><rect x="1314.39" y="1155.57" width="6.18" height="5.83" fill="#fff"/><rect x="1325.09" y="1155.57" width="5.79" height="5.83" fill="#fff"/></g>
<g><rect x="1461.06" y="1155.57" width="6.18" height="5.83" fill="#fff"/><rect x="1471.76" y="1155.57" width="5.79" height="5.83" fill="#fff"/></g>
<g><rect x="1029.32" y="761.10" width="6.80" height="6.20" fill="#fff"/><rect x="1041.12" y="761.10" width="6.36" height="6.20" fill="#fff"/></g>
<g><rect x="400.58" y="1200.50" width="6.80" height="6.20" fill="#fff"/><rect x="412.39" y="1200.50" width="6.36" height="6.20" fill="#fff"/></g>
<g><rect x="1148.07" y="1207.90" width="6.80" height="6.20" fill="#fff"/><rect x="1159.87" y="1207.90" width="6.36" height="6.20" fill="#fff"/></g>
</g>
</svg>
</body></html>
